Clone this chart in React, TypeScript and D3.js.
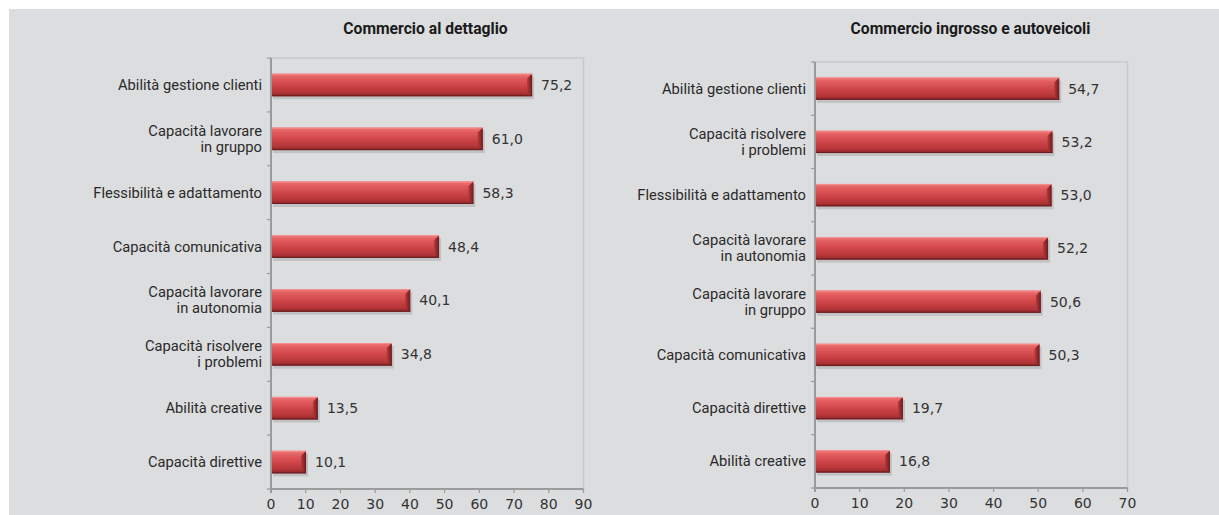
import React from "react";
import * as d3 from "d3";

const leftTitle = "Commercio al dettaglio";
const leftCategories = [
  "Abilità gestione clienti",
  "Capacità lavorare\nin gruppo",
  "Flessibilità e adattamento",
  "Capacità comunicativa",
  "Capacità lavorare\nin autonomia",
  "Capacità risolvere\ni problemi",
  "Abilità creative",
  "Capacità direttive",
];
const leftValues = [75.2, 61.0, 58.3, 48.4, 40.1, 34.8, 13.5, 10.1];
const leftTicks = [0, 10, 20, 30, 40, 50, 60, 70, 80, 90];

const rightTitle = "Commercio ingrosso e autoveicoli";
const rightCategories = [
  "Abilità gestione clienti",
  "Capacità risolvere\ni problemi",
  "Flessibilità e adattamento",
  "Capacità lavorare\nin autonomia",
  "Capacità lavorare\nin gruppo",
  "Capacità comunicativa",
  "Capacità direttive",
  "Abilità creative",
];
const rightValues = [54.7, 53.2, 53.0, 52.2, 50.6, 50.3, 19.7, 16.8];
const rightTicks = [0, 10, 20, 30, 40, 50, 60, 70];

const LABEL_FONT = "Roboto, 'Liberation Sans', sans-serif";
const NUM_FONT = "'DejaVu Sans', 'Open Sans', sans-serif";

type PanelProps = {
  id: string;
  title: string;
  titleX: number;
  categories: string[];
  values: number[];
  ticks: number[];
  x0: number;
  x1: number;
  y0: number;
  y1: number;
};

function Panel({ id, title, titleX, categories, values, ticks, x0, x1, y0, y1 }: PanelProps) {
  const maxV = ticks[ticks.length - 1];
  const x = d3.scaleLinear().domain([0, maxV]).range([x0, x1]);
  const y = d3.scaleBand<number>().domain(d3.range(categories.length)).range([y0, y1]).paddingInner(0.58).paddingOuter(0.29);
  const bh = y.bandwidth();
  const step = y.step();
  const fmt = (v: number) => v.toFixed(1).replace(".", ",");
  return (
    <g>
      <defs>
        <linearGradient id={`grad-${id}`} x1="0" y1="0" x2="0" y2="1">
          <stop offset="0" stopColor="#f07a7a" />
          <stop offset="0.18" stopColor="#e35e60" />
          <stop offset="0.55" stopColor="#cc4346" />
          <stop offset="0.85" stopColor="#b13437" />
          <stop offset="1" stopColor="#7e2224" />
        </linearGradient>
        <linearGradient id={`end-${id}`} x1="0" y1="0" x2="1" y2="0">
          <stop offset="0" stopColor="#b8393c" />
          <stop offset="1" stopColor="#6e1c1e" />
        </linearGradient>
      </defs>
      <text x={titleX} y={34} textAnchor="middle" fontFamily={LABEL_FONT} fontWeight="bold" fontSize={15.7} fill="#1a1a1a">
        {title}
      </text>
      <rect x={x0} y={y0} width={x1 - x0} height={y1 - y0} fill="none" stroke="#c9c9ca" strokeWidth={1.5} />
      {d3.range(categories.length + 1).map((i) => (
        <line key={`ct${i}`} x1={x0 - 4} x2={x0} y1={y0 + i * step} y2={y0 + i * step} stroke="#9a9a9a" strokeWidth={1.2} />
      ))}
      {values.map((v, i) => {
        const by = y(i)!;
        const bx = x(0);
        const bw = x(v) - x(0);
        const bev = Math.min(5, bw / 2);
        return (
          <g key={`b${i}`}>
            <rect x={bx + 2} y={by + 3} width={bw} height={bh} fill="#8e8e90" opacity={0.35} />
            <rect x={bx} y={by} width={bw} height={bh} fill={`url(#grad-${id})`} />
            <polygon
              points={`${bx + bw - bev},${by + bev} ${bx + bw},${by} ${bx + bw},${by + bh} ${bx + bw - bev},${by + bh - bev}`}
              fill={`url(#end-${id})`}
            />
            <line x1={bx} x2={bx + bw} y1={by + 0.5} y2={by + 0.5} stroke="#f49090" strokeWidth={1} />
            <line x1={bx} x2={bx + bw} y1={by + bh - 0.5} y2={by + bh - 0.5} stroke="#6f1d1f" strokeWidth={1} />
            <text x={x(v) + 9} y={by + bh / 2 + 5} fontFamily={NUM_FONT} fontSize={14} fill="#333">
              {fmt(v)}
            </text>
          </g>
        );
      })}
      {categories.map((c, i) => {
        const lines = c.split("\n");
        const cy = y(i)! + bh / 2;
        const lh = 16;
        const start = cy - ((lines.length - 1) * lh) / 2 + 5;
        return (
          <text key={`cl${i}`} x={x0 - 9} textAnchor="end" fontFamily={LABEL_FONT} fontSize={14.7} fill="#2a2a2a">
            {lines.map((l, j) => (
              <tspan key={j} x={x0 - 9} y={start + j * lh}>
                {l}
              </tspan>
            ))}
          </text>
        );
      })}
      <line x1={x0} x2={x0} y1={y0} y2={y1 + 4} stroke="#9a9a9a" strokeWidth={2} />
      <line x1={x0} x2={x1} y1={y1} y2={y1} stroke="#9a9a9a" strokeWidth={2} />
      {ticks.map((t) => (
        <g key={`t${t}`}>
          <line x1={x(t)} x2={x(t)} y1={y1} y2={y1 + 4} stroke="#9a9a9a" strokeWidth={1.2} />
          <text x={x(t)} y={y1 + 20} textAnchor="middle" fontFamily={NUM_FONT} fontSize={14} fill="#333">
            {t}
          </text>
        </g>
      ))}
    </g>
  );
}

export default function App() {
  return (
    <svg width={1219} height={515} style={{ position: "absolute", left: 0, top: 0, display: "block" }}>
      <rect x={0} y={0} width={1219} height={515} fill="#ffffff" />
      <rect x={9} y={9} width={1210} height={506} fill="#dcdddf" />
      <Panel
        id="l"
        title={leftTitle}
        titleX={425.5}
        categories={leftCategories}
        values={leftValues}
        ticks={leftTicks}
        x0={271}
        x1={583.5}
        y0={58}
        y1={489}
      />
      <Panel
        id="r"
        title={rightTitle}
        titleX={970.5}
        categories={rightCategories}
        values={rightValues}
        ticks={rightTicks}
        x0={815}
        x1={1127.5}
        y0={62}
        y1={488}
      />
    </svg>
  );
}
